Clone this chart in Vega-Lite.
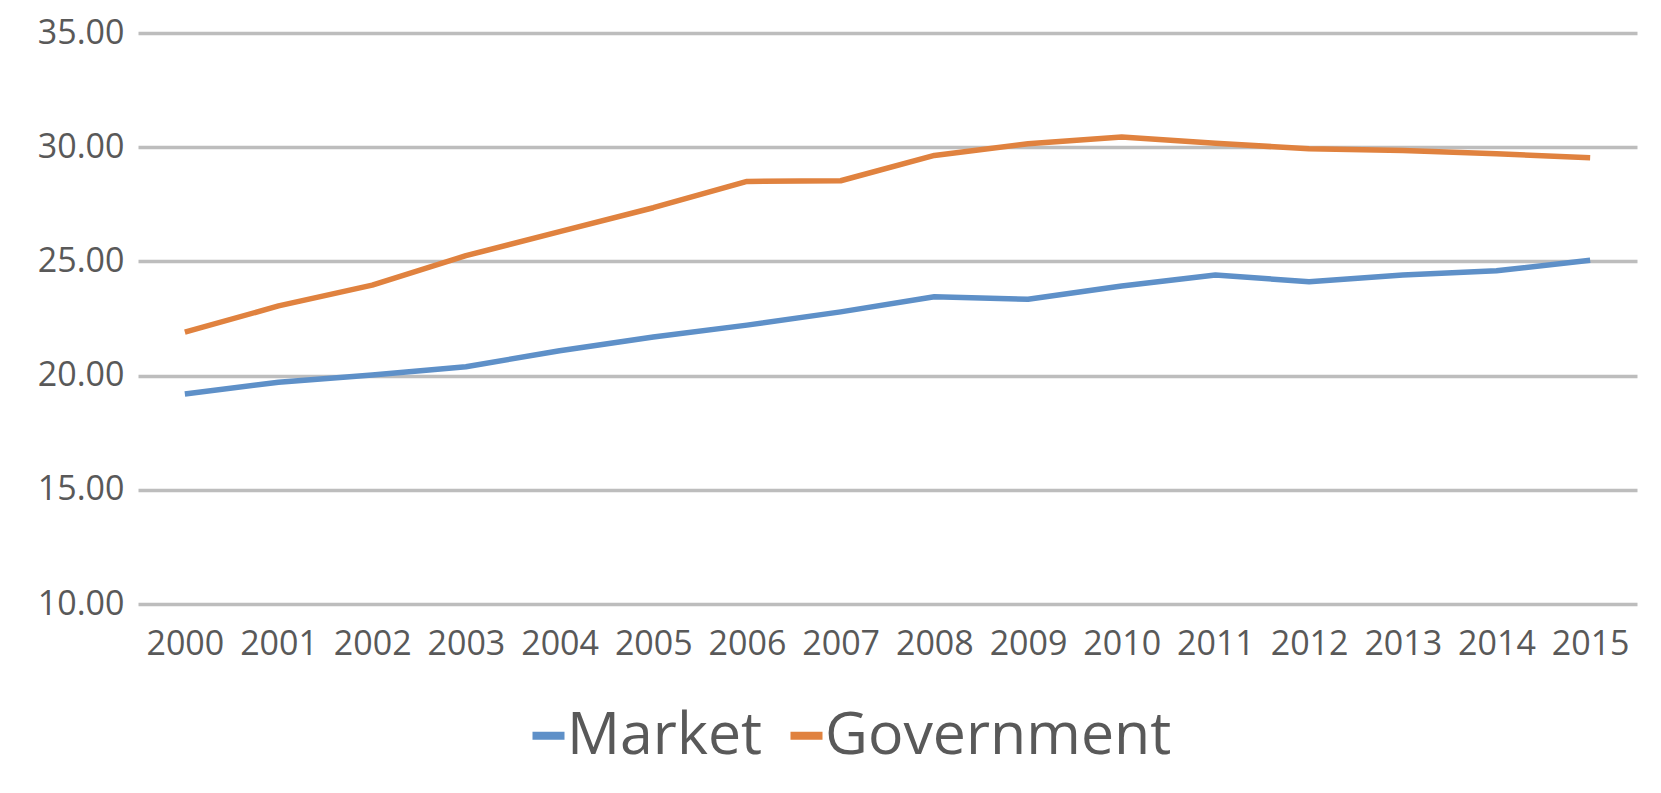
{
  "$schema": "https://vega.github.io/schema/vega-lite/v6.json",
  "width": 1499,
  "height": 571,
  "autosize": {"type": "none"},
  "padding": {"left": 138, "top": 33, "right": 24, "bottom": 189},
  "background": "white",
  "data": {
    "values": [
      {"year": "2000", "series": "Market", "value": 19.19},
      {"year": "2001", "series": "Market", "value": 19.71},
      {"year": "2002", "series": "Market", "value": 20.03},
      {"year": "2003", "series": "Market", "value": 20.39},
      {"year": "2004", "series": "Market", "value": 21.09},
      {"year": "2005", "series": "Market", "value": 21.69},
      {"year": "2006", "series": "Market", "value": 22.21},
      {"year": "2007", "series": "Market", "value": 22.79},
      {"year": "2008", "series": "Market", "value": 23.45},
      {"year": "2009", "series": "Market", "value": 23.34},
      {"year": "2010", "series": "Market", "value": 23.92},
      {"year": "2011", "series": "Market", "value": 24.40},
      {"year": "2012", "series": "Market", "value": 24.11},
      {"year": "2013", "series": "Market", "value": 24.40},
      {"year": "2014", "series": "Market", "value": 24.59},
      {"year": "2015", "series": "Market", "value": 25.05},
      {"year": "2000", "series": "Government", "value": 21.90},
      {"year": "2001", "series": "Government", "value": 23.05},
      {"year": "2002", "series": "Government", "value": 23.96},
      {"year": "2003", "series": "Government", "value": 25.25},
      {"year": "2004", "series": "Government", "value": 26.30},
      {"year": "2005", "series": "Government", "value": 27.35},
      {"year": "2006", "series": "Government", "value": 28.50},
      {"year": "2007", "series": "Government", "value": 28.53},
      {"year": "2008", "series": "Government", "value": 29.64},
      {"year": "2009", "series": "Government", "value": 30.15},
      {"year": "2010", "series": "Government", "value": 30.45},
      {"year": "2011", "series": "Government", "value": 30.17},
      {"year": "2012", "series": "Government", "value": 29.93},
      {"year": "2013", "series": "Government", "value": 29.86},
      {"year": "2014", "series": "Government", "value": 29.71},
      {"year": "2015", "series": "Government", "value": 29.54}
    ]
  },
  "mark": {"type": "line", "strokeWidth": 5.5, "strokeJoin": "round"},
  "encoding": {
    "x": {
      "field": "year",
      "type": "ordinal",
      "scale": {"type": "point", "padding": 0.5},
      "axis": {
        "title": null,
        "labelAngle": 0,
        "domain": false,
        "ticks": false,
        "tickSize": 0,
        "grid": false,
        "labelPadding": 23,
        "labelFontSize": 34,
        "labelFont": "Open Sans",
        "labelColor": "#595959"
      }
    },
    "y": {
      "field": "value",
      "type": "quantitative",
      "scale": {"domain": [10, 35], "nice": false, "zero": false},
      "axis": {
        "title": null,
        "values": [10, 15, 20, 25, 30, 35],
        "format": ".2f",
        "domain": false,
        "ticks": false,
        "tickSize": 0,
        "grid": true,
        "gridColor": "#BDBDBD",
        "gridWidth": 3.5,
        "labelPadding": 14,
        "labelFontSize": 34,
        "labelFont": "Open Sans",
        "labelColor": "#595959"
      }
    },
    "color": {
      "field": "series",
      "type": "nominal",
      "scale": {"domain": ["Market", "Government"], "range": ["#5E90C8", "#E0823F"]},
      "legend": {
        "title": null,
        "orient": "none",
        "legendX": 381,
        "legendY": 673,
        "direction": "horizontal",
        "labelFontSize": 59,
        "labelFont": "Open Sans",
        "labelColor": "#595959",
        "symbolType": "stroke",
        "symbolSize": 1024,
        "symbolStrokeWidth": 8,
        "labelOffset": -11,
        "columnPadding": 11,
        "labelLimit": 600
      }
    }
  },
  "config": {"view": {"stroke": null}}
}
